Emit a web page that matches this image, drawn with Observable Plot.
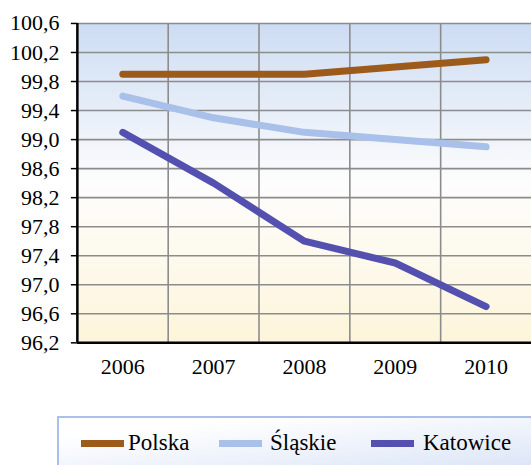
<!DOCTYPE html>
<html>
<head>
<meta charset="utf-8">
<script src="https://cdn.jsdelivr.net/npm/d3@7"></script>
<script src="https://cdn.jsdelivr.net/npm/@observablehq/plot@0.6"></script>
<style>
  html, body { margin: 0; padding: 0; background: #fff; overflow: hidden; }
  #wrap { position: relative; width: 531px; height: 465px; overflow: hidden; }
  #legend {
    position: absolute; left: 57px; top: 416px; width: 490px; height: 52px;
    box-sizing: border-box; border: 2px solid #a9c0ea;
    background: linear-gradient(to bottom right, #ffffff 20%, #dce5f7);
    font-family: 'Liberation Serif', 'LiberationSerif', 'Times New Roman', Times, Tinos, 'Noto Serif', 'DejaVu Serif', FreeSerif, serif;
    font-size: 23px; color: #000;
  }
  #chart svg, #chart svg text { font-family: 'Liberation Serif', 'LiberationSerif', 'Times New Roman', Times, Tinos, 'Noto Serif', 'DejaVu Serif', FreeSerif, serif !important; }
  .item { position: absolute; top: 12px; display: flex; align-items: center; }
  .sw { width: 43px; height: 7px; margin-right: 4px; }
</style>
</head>
<body>
<div id="wrap">
  <div id="chart"></div>
  <div id="legend"></div>
</div>
<script>
const years = [2006, 2007, 2008, 2009, 2010];
const polska = [99.9, 99.9, 99.9, 100.0, 100.1];
const slaskie = [99.6, 99.3, 99.1, 99.0, 98.9];
const katowice = [99.1, 98.4, 97.6, 97.3, 96.7];
const yTicks = [96.2, 96.6, 97.0, 97.4, 97.8, 98.2, 98.6, 99.0, 99.4, 99.8, 100.2, 100.6];
const seriesNames = ["Polska", "Śląskie", "Katowice"];
const seriesColors = ["#9c5b1a", "#a9c0ea", "#5450b0"];

const seriesValues = [polska, slaskie, katowice];
const data = [];
seriesNames.forEach((name, i) => {
  years.forEach((yr, j) => data.push({series: name, year: yr, value: seriesValues[i][j]}));
});
const gridX = years.slice(0, -1).map(y => y + 0.5);

const fmt = d => d.toFixed(1).replace(".", ",");

const plot = Plot.plot({
  width: 532,
  height: 400,
  marginLeft: 77,
  marginRight: 0,
  marginTop: 23,
  marginBottom: 57,
  style: {fontSize: "22px", color: "#000", background: "transparent"},
  x: {domain: [years[0] - 0.5, years[years.length - 1] + 0.5]},
  y: {domain: [yTicks[0], yTicks[yTicks.length - 1]]},
  color: {domain: seriesNames, range: seriesColors},
  marks: [
    Plot.frame({fill: "url(#bg)", stroke: "none"}),
    Plot.ruleY(yTicks.slice(1), {stroke: "#8c8c8c", strokeWidth: 1.6, strokeOpacity: 1}),
    Plot.ruleX(gridX, {stroke: "#8c8c8c", strokeWidth: 1.6, strokeOpacity: 1}),
    Plot.axisY({ticks: yTicks, tickFormat: fmt, tickSize: 6, tickPadding: 12, label: null, stroke: "#000", strokeWidth: 1.5}),
    Plot.axisX({ticks: years, tickFormat: d => String(d), tickSize: 0, tickPadding: 16, label: null}),
    Plot.line(data, {x: "year", y: "value", z: "series", stroke: "series", strokeWidth: 7, strokeLinecap: "round", strokeLinejoin: "round"}),
    Plot.ruleX([years[0] - 0.5], {stroke: "#000", strokeWidth: 2.5}),
    Plot.ruleY([yTicks[0]], {stroke: "#000", strokeWidth: 2.5})
  ]
});

const svg = d3.select(plot);
const defs = svg.insert("defs", ":first-child");
const grad = defs.append("linearGradient").attr("id", "bg").attr("x1", 0).attr("y1", 0).attr("x2", 0).attr("y2", 1);
grad.append("stop").attr("offset", "0%").attr("stop-color", "#cddcf3");
grad.append("stop").attr("offset", "50%").attr("stop-color", "#fdfdfd");
grad.append("stop").attr("offset", "100%").attr("stop-color", "#fdf5da");

document.getElementById("chart").appendChild(plot);

const legend = document.getElementById("legend");
const lefts = [22, 160, 312];
seriesNames.forEach((name, i) => {
  const it = document.createElement("div");
  it.className = "item";
  it.style.left = lefts[i] + "px";
  const sw = document.createElement("div");
  sw.className = "sw";
  sw.style.background = seriesColors[i];
  it.appendChild(sw);
  const tx = document.createElement("span");
  tx.textContent = name;
  tx.style.marginLeft = (i === 0 ? 0 : i === 1 ? 4 : 5) + "px";
  it.appendChild(tx);
  legend.appendChild(it);
});
</script>
</body>
</html>
